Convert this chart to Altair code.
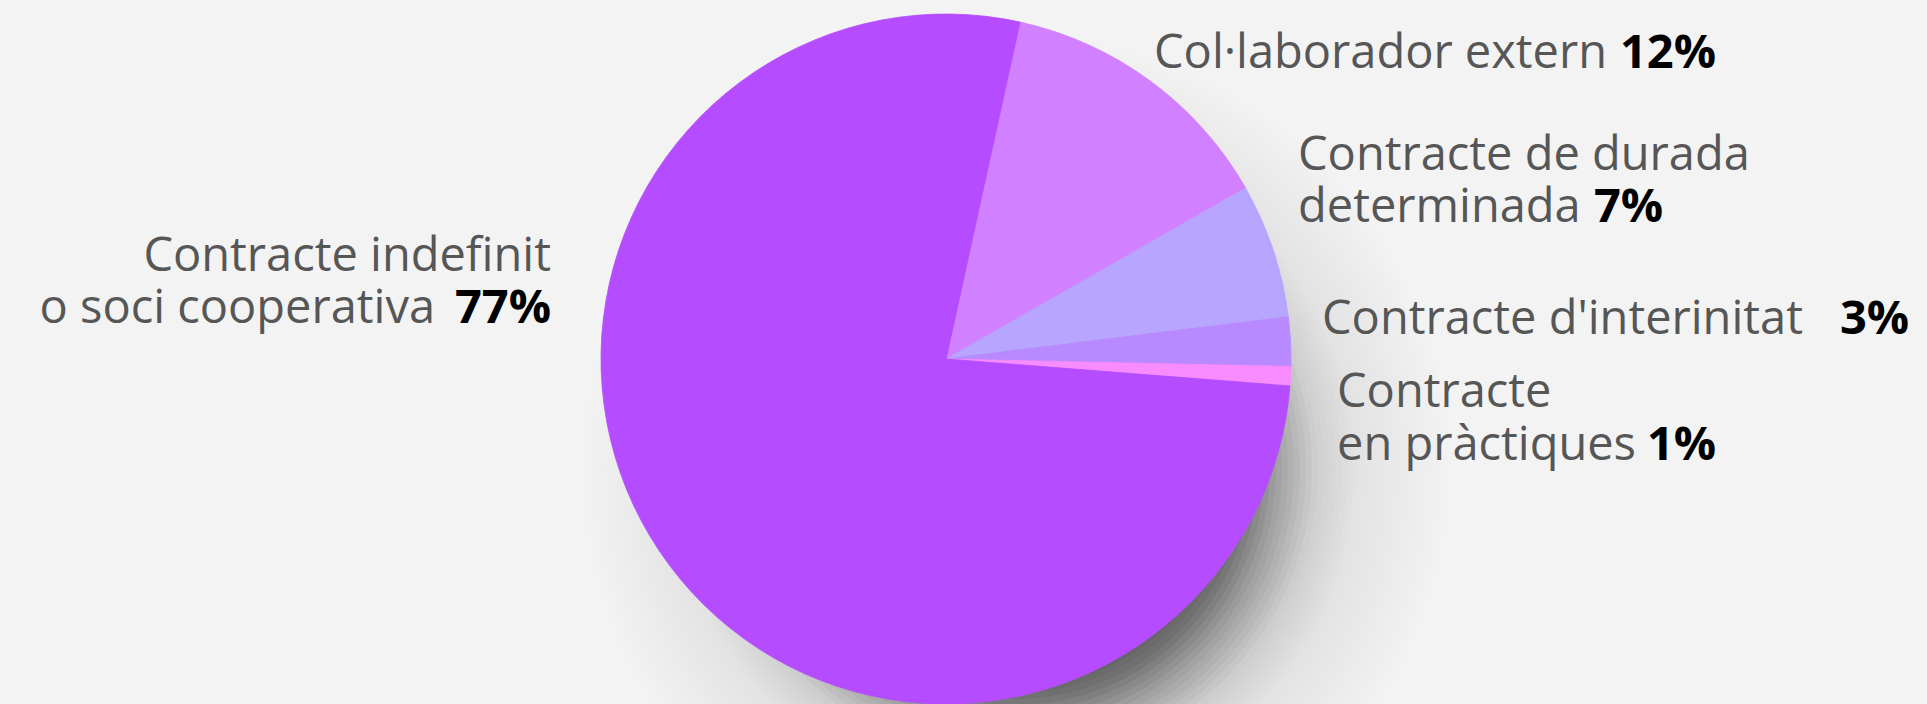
import math
import altair as alt
import pandas as pd

# ---------------- data ----------------
categories = [
    "Col·laborador extern",
    "Contracte de durada determinada",
    "Contracte d'interinitat",
    "Contracte en pràctiques",
    "Contracte indefinit o soci cooperativa",
]
shares = [13.3, 6.3, 2.3, 0.9, 77.2]          # slice sizes as drawn
pct_labels = ["12%", "7%", "3%", "1%", "77%"]  # printed percentages
label_lines = [
    ["Col·laborador extern"],
    ["Contracte de durada", "determinada"],
    ["Contracte d'interinitat"],
    ["Contracte", "en pràctiques"],
    ["Contracte indefinit", "o soci cooperativa"],
]
colors = ["#d180ff", "#b8a5ff", "#b98aff", "#f88cff", "#b54cff"]

# ---------------- layout ----------------
W, H = 1927, 704
CX, CY, R = 946, 359, 345
START = math.radians(12.4)
FONT = "Open Sans"
FS = 47
TXT = "#565656"

# label anchor per category: (align, x of text lines, baselines, x of percent)
layout = [
    ("left", 1154, [68], 1620),
    ("left", 1298, [170, 222], 1594),
    ("left", 1322, [334], 1840),
    ("left", 1337, [407, 460], 1647),
    ("right", 551, [271, 323], 551),
]
RIGHT_LINE2_X = 435

pie_df = pd.DataFrame({"cat": categories, "share": shares, "ord": list(range(len(categories)))})

# text pieces table
rows = []
for lines, pct, (align, x, ys, px) in zip(label_lines, pct_labels, layout):
    for i, (line, y) in enumerate(zip(lines, ys)):
        last = i == len(lines) - 1
        if align == "left":
            rows.append({"text": line, "x": x, "y": y, "align": "left", "bold": False})
            if last:
                rows.append({"text": pct, "x": px, "y": y, "align": "left", "bold": True})
        else:
            if last:
                rows.append({"text": pct, "x": px, "y": y, "align": "right", "bold": True})
                rows.append({"text": line, "x": RIGHT_LINE2_X, "y": y, "align": "right", "bold": False})
            else:
                rows.append({"text": line, "x": x, "y": y, "align": "right", "bold": False})
txt_df = pd.DataFrame(rows)

# ---------------- soft shadow (offset down-right) ----------------
SDX, SDY = 70, 110
profile = [(200, 0.6), (230, 0.5), (260, 0.32), (300, 0.14), (340, 0.06), (400, 0.02), (440, 0.0)]

def prof(d):
    if d <= profile[0][0]:
        return profile[0][1]
    for (d0, o0), (d1, o1) in zip(profile, profile[1:]):
        if d <= d1:
            return o0 + (o1 - o0) * (d - d0) / (d1 - d0)
    return 0.0

STEP = 6
radii = list(range(440, 199, -STEP))
one = pd.DataFrame({"k": [0]})
shadow_layers = []
for r in radii:
    t_in = 1 - prof(r - STEP / 2)
    t_out = 1 - prof(r + STEP / 2)
    a = max(0.0, 1 - t_in / t_out)
    if a <= 0:
        continue
    shadow_layers.append(
        alt.Chart(one).mark_arc(radius=r, theta=0, theta2=2 * math.pi, color="black", opacity=round(a, 4))
        .encode(x=alt.value(CX + SDX), y=alt.value(CY + SDY))
    )

color_scale = alt.Scale(domain=categories, range=colors)
pie = alt.Chart(pie_df).mark_arc(radius=R, strokeWidth=0.8).encode(
    theta=alt.Theta("share:Q", stack=True, scale=alt.Scale(range=[START, START + 2 * math.pi])),
    order=alt.Order("ord:Q"),
    color=alt.Color("cat:N", scale=color_scale, legend=None),
    stroke=alt.Stroke("cat:N", scale=color_scale, legend=None),
    x=alt.value(CX),
    y=alt.value(CY),
)

def text_layer(align, bold):
    sub = txt_df[(txt_df["align"] == align) & (txt_df["bold"] == bold)]
    return alt.Chart(sub).mark_text(
        align=align, baseline="alphabetic", font=FONT, fontSize=FS,
        fontWeight="bold" if bold else "normal",
        color="#000000" if bold else TXT,
    ).encode(
        x=alt.X("x:Q", scale=None, axis=None),
        y=alt.Y("y:Q", scale=None, axis=None),
        text="text:N",
    )

texts = [text_layer(a, b) for a in ("left", "right") for b in (False, True)]

chart = alt.layer(*shadow_layers, pie, *texts).properties(
    width=W, height=H, background="#f3f3f3", padding=0,
    autosize=alt.AutoSizeParams(type="none"),
).configure_view(stroke=None)

chart.save("out.html", embed_options={"renderer": "svg", "actions": False})
